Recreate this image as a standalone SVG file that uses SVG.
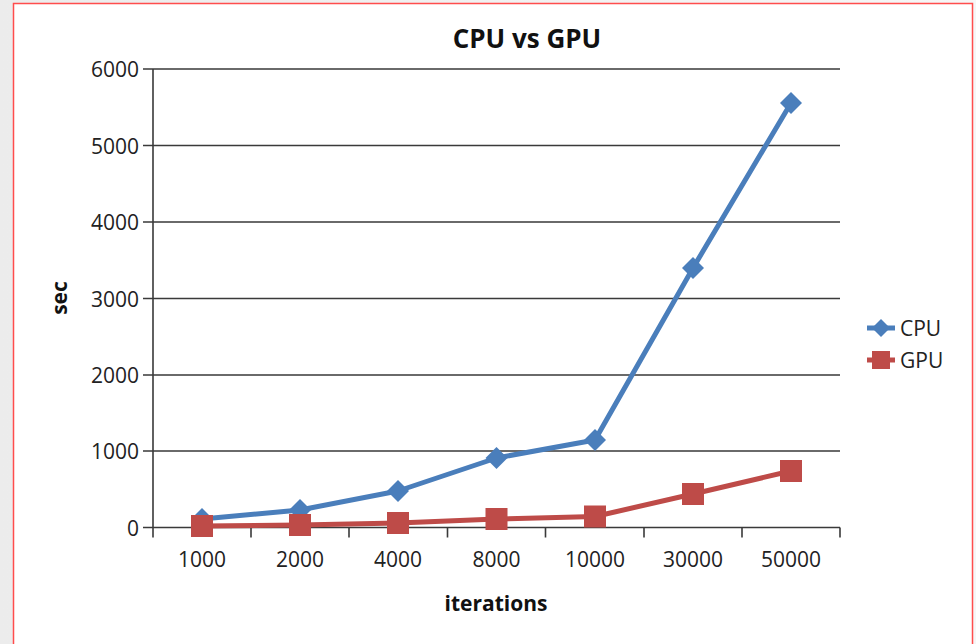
<svg xmlns="http://www.w3.org/2000/svg" width="976" height="644" viewBox="0 0 976 644">
  <defs>
    <linearGradient id="page" x1="0" y1="0" x2="1" y2="0">
      <stop offset="0" stop-color="#ececec"/>
      <stop offset="1" stop-color="#f6f6f6"/>
    </linearGradient>
    <style>
      .grid { stroke: #3a3a3a; stroke-width: 1.6; fill: none; }
      .axis { stroke: #3a3a3a; stroke-width: 1.6; fill: none; }
      .lbl { font-family: "Open Sans", "Liberation Sans", sans-serif; font-size: 21px; fill: #222; }
      .ttl { font-family: "Open Sans", "Liberation Sans", sans-serif; font-weight: bold; fill: #111; }
      .cpu { stroke: #4a7ebb; stroke-width: 5; fill: none; stroke-linejoin: round; }
      .gpu { stroke: #be4b48; stroke-width: 5; fill: none; stroke-linejoin: round; }
      .cpuM { fill: #4a7ebb; }
      .gpuM { fill: #be4b48; }
    </style>
    <path id="dia" d="M0,-11 L11,0 L0,11 L-11,0 Z"/>
    <path id="dia-s" d="M0,-9 L9,0 L0,9 L-9,0 Z"/>
    <rect id="sq" x="-11" y="-11" width="22" height="22"/>
  </defs>

  <!-- page and chart frame -->
  <rect x="0" y="0" width="976" height="644" fill="url(#page)"/>
  <rect x="13.5" y="3.5" width="959" height="650" fill="#ffffff" stroke="#ff4d4d" stroke-width="1.5"/>

  <!-- title -->
  <text class="ttl" x="527" y="48" font-size="26" text-anchor="middle">CPU vs GPU</text>

  <!-- gridlines -->
  <g id="gridlines">
    <path class="grid" d="M143,69 H840 M143,145.5 H840 M143,222 H840 M143,298.5 H840 M143,375 H840 M143,451 H840"/>
  </g>

  <!-- axes and ticks -->
  <g id="axes">
    <path class="axis" d="M153,69 V527.5 M143,527.5 H840"/>
    <path class="axis" d="M153,527.5 v10 M251,527.5 v10 M349,527.5 v10 M447.5,527.5 v10 M545.5,527.5 v10 M644,527.5 v10 M742,527.5 v10 M840,527.5 v10"/>
  </g>

  <!-- y tick labels -->
  <g id="y-labels" class="lbl" text-anchor="end">
    <text x="139" y="77">6000</text>
    <text x="139" y="153.5">5000</text>
    <text x="139" y="230">4000</text>
    <text x="139" y="306.5">3000</text>
    <text x="139" y="383">2000</text>
    <text x="139" y="459">1000</text>
    <text x="139" y="535.5">0</text>
  </g>

  <!-- x tick labels -->
  <g id="x-labels" class="lbl" text-anchor="middle">
    <text x="202" y="567">1000</text>
    <text x="300" y="567">2000</text>
    <text x="398" y="567">4000</text>
    <text x="496.5" y="567">8000</text>
    <text x="595" y="567">10000</text>
    <text x="693" y="567">30000</text>
    <text x="791" y="567">50000</text>
  </g>

  <!-- axis titles -->
  <text class="ttl" x="496" y="611" font-size="21" text-anchor="middle">iterations</text>
  <text class="ttl" transform="translate(67,298) rotate(-90)" font-size="21" text-anchor="middle">sec</text>

  <!-- data series -->
  <g id="series-cpu">
    <polyline class="cpu" points="202,519 300,510 398,491 496.5,458 595,440 693,268 791,103"/>
    <use href="#dia" class="cpuM" x="202" y="519"/>
    <use href="#dia" class="cpuM" x="300" y="510"/>
    <use href="#dia" class="cpuM" x="398" y="491"/>
    <use href="#dia" class="cpuM" x="496.5" y="458"/>
    <use href="#dia" class="cpuM" x="595" y="440"/>
    <use href="#dia" class="cpuM" x="693" y="268"/>
    <use href="#dia" class="cpuM" x="791" y="103"/>
  </g>
  <g id="series-gpu">
    <polyline class="gpu" points="202,526 300,525 398,523 496.5,519 595,516.5 693,494 791,471"/>
    <use href="#sq" class="gpuM" x="202" y="526"/>
    <use href="#sq" class="gpuM" x="300" y="525"/>
    <use href="#sq" class="gpuM" x="398" y="523"/>
    <use href="#sq" class="gpuM" x="496.5" y="519"/>
    <use href="#sq" class="gpuM" x="595" y="516.5"/>
    <use href="#sq" class="gpuM" x="693" y="494"/>
    <use href="#sq" class="gpuM" x="791" y="471"/>
  </g>

  <!-- legend -->
  <g id="legend">
    <g id="legend-cpu">
      <path class="cpu" d="M867,328 H895"/>
      <use href="#dia-s" class="cpuM" x="881" y="328"/>
      <text class="lbl" x="900" y="336">CPU</text>
    </g>
    <g id="legend-gpu">
      <path class="gpu" d="M867,360 H895"/>
      <rect class="gpuM" x="872" y="351" width="18" height="18"/>
      <text class="lbl" x="900" y="368">GPU</text>
    </g>
  </g>
</svg>
